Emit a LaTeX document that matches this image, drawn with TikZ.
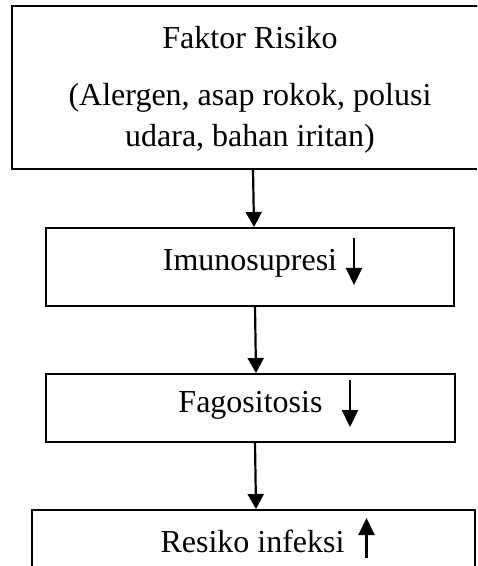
\documentclass[tikz,border=0pt]{standalone}
\usepackage{fontspec}
\setmainfont{Liberation Serif}
\usetikzlibrary{arrows.meta}
\begin{document}
\begin{tikzpicture}[x=0.5pt,y=-0.5pt,
  box/.style={draw, line width=1pt, inner sep=0pt},
  txt/.style={inner sep=0pt, font=\fontsize{16}{20.5}\selectfont, align=center},
  flow/.style={line width=1.1pt, -{Triangle[width=8pt,length=7.5pt]}},
  trendarrow/.style={line width=1.1pt, -{Triangle[width=8pt,length=8.5pt]}}]
\useasboundingbox (0,0) rectangle (477,566);
\clip (0,0) rectangle (477,566);
% boxes
\node[box, minimum width=239pt, minimum height=81.5pt] (fr) at (251,87.5) {};
\node[box, minimum width=204pt, minimum height=39pt] (im) at (250,267) {};
\node[box, minimum width=204.5pt, minimum height=34pt] (fg) at (250.5,408) {};
\node[box, minimum width=221.5pt, minimum height=40pt] (ri) at (253.5,550) {};
% texts
\node[txt] (frt) at (250,38) {Faktor Risiko};
\node[txt] (frs) at (250,118) {(Alergen, asap rokok, polusi\\udara, bahan iritan)};
\node[txt] (imt) at (250,263) {Imunosupresi};
\node[txt] (fgt) at (250.5,405) {Fagositosis};
\node[txt] (rit) at (252.5,541) {Resiko infeksi};
% flow arrows
\draw[flow] ([xshift=1pt]fr.south) -- ([xshift=2pt]im.north);
\draw[flow] ([xshift=2.5pt]im.south) -- ([xshift=2.75pt]fg.north);
\draw[flow] ([xshift=2.25pt]fg.south) -- ([xshift=1.25pt]ri.north);
% small indicator arrows
\coordinate (ima) at (354,238);
\coordinate (imb) at (354,285);
\coordinate (fga) at (350,380);
\coordinate (fgb) at (350,427);
\coordinate (ria) at (366.5,558);
\coordinate (rib) at (366.5,518);
\draw[trendarrow] (ima) -- (imb);
\draw[trendarrow] (fga) -- (fgb);
\draw[trendarrow] (ria) -- (rib);
\end{tikzpicture}
\end{document}
